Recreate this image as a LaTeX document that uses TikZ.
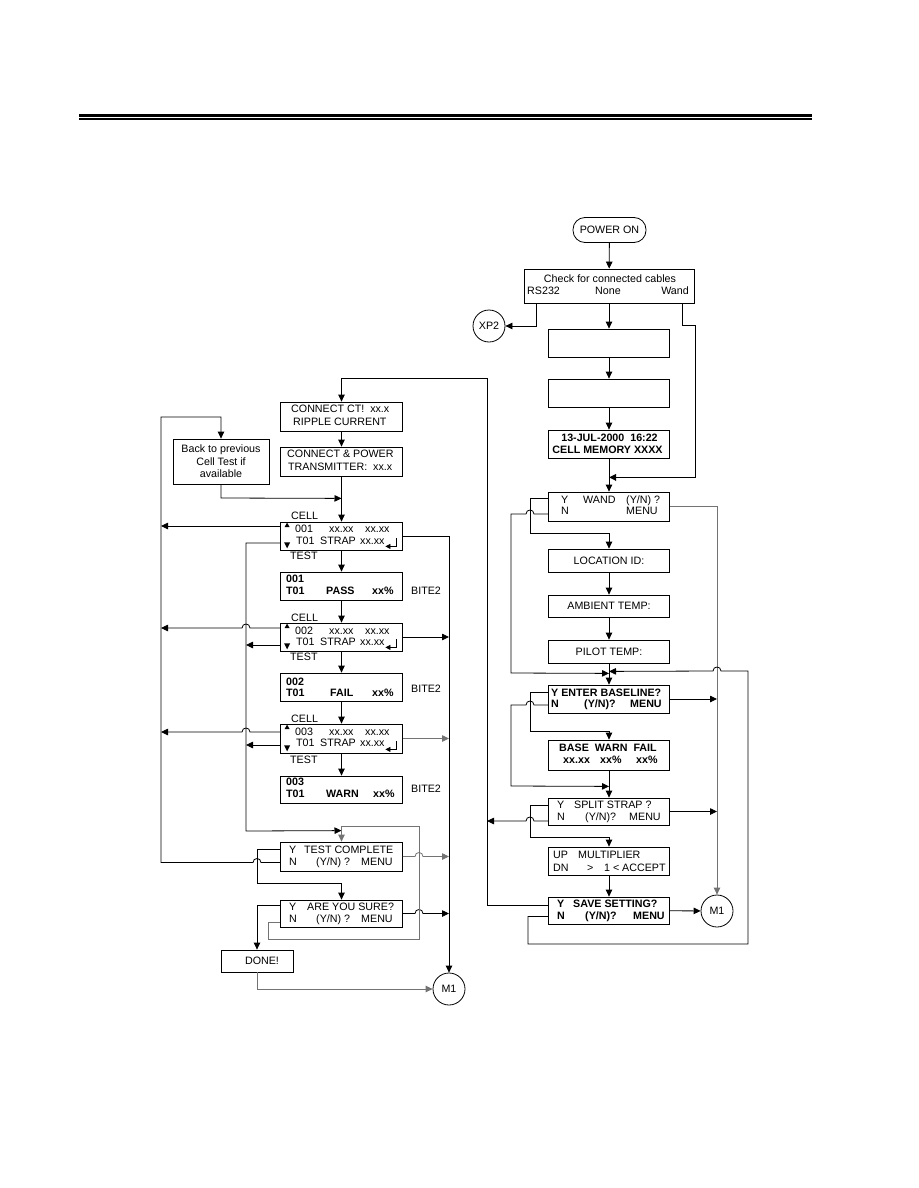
\documentclass[tikz,border=0pt]{standalone}
\usepackage{fontspec}
\setmainfont{Liberation Sans}
\usetikzlibrary{arrows.meta,calc}
\newcommand\myfs{\fontsize{10.7}{12.5}\selectfont}
\newcommand\tx[4]{\node[txt] (#1) at (#2,#3) {#4};}
\newcommand\tb[4]{\node[txt,font=\myfs\bfseries] (#1) at (#2,#3) {#4};}
\begin{document}
\begin{tikzpicture}[x=1pt,y=-1pt,
 every node/.style={font=\myfs},
 box/.style={draw, line width=0.8pt, inner sep=0pt, minimum width=122pt},
 rbox/.style={box, minimum width=121pt},
 txt/.style={anchor=west, inner sep=0pt, text height=7.7pt, text depth=0pt},
 ctxt/.style={txt, anchor=center},
 circ/.style={draw, circle, line width=0.8pt, minimum size=32pt, inner sep=0pt},
 ln/.style={line width=0.8pt},
 arr/.style={ln, -{Triangle[length=7pt,width=6.5pt]}},
 gry/.style={draw=black!55},
]
\useasboundingbox (0,0) rectangle (918,1188);
% header rule
\fill (79,114) rectangle (812,117);
\fill (79,118) rectangle (812,120);

% ---------------- right column ----------------
\node[box, rounded corners=12pt, minimum width=73pt, minimum height=25pt] (power) at (609.5,230) {POWER ON};
\node[box, minimum width=170pt, minimum height=34pt] (check) at (609,286) {};
\node[ctxt] (chk1) at (610,279) {Check for connected cables};
\tx{chk2}{527}{291}{RS232}
\tx{chk3}{595}{291}{None}
\node[txt, anchor=east] (chk4) at (689,291) {Wand};
\node[circ] (xp2) at (489,326) {XP2};
\node[rbox, minimum height=28pt] (b1) at (609,343) {};
\node[rbox, minimum height=28pt] (b2) at (609,393) {};
\node[rbox, minimum height=28pt] (date) at (609,444) {};
\node[ctxt, font=\myfs\bfseries] (d1) at (609.5,438) {13-JUL-2000\ \ 16:22};
\node[ctxt, font=\myfs\bfseries] (d2) at (607.5,450) {CELL MEMORY XXXX};
\node[rbox, minimum height=29pt] (wand) at (609,506.5) {};
\tx{w1}{561}{500}{Y}
\tx{w2}{583}{500}{WAND}
\tx{w3}{626}{500}{(Y/N) ?}
\tx{w4}{561}{511}{N}
\tx{w5}{626}{511}{MENU}
\node[rbox, minimum height=23pt] (loc) at (609,560.5) {LOCATION ID:};
\node[rbox, minimum height=22pt] (amb) at (609,606) {AMBIENT TEMP:};
\node[rbox, minimum height=23pt] (pilot) at (609,651.5) {PILOT TEMP:};
\node[rbox, minimum height=28pt] (base) at (609,699) {};
\tb{e1}{551}{692.5}{Y ENTER BASELINE?}
\tb{e2}{551}{704}{N}
\tb{e3}{584}{704}{(Y/N)?}
\tb{e4}{630}{704}{MENU}
\node[rbox, minimum height=30pt] (bwf) at (609,755) {};
\tb{f1}{559}{748}{BASE\ \ WARN\ \ FAIL}
\tb{f2}{563}{760}{xx.xx}
\tb{f3}{600}{760}{xx\%}
\tb{f4}{636}{760}{xx\%}
\node[rbox, minimum height=27pt] (split) at (609,811.5) {};
\tx{s1}{557}{805}{Y}
\tx{s2}{574}{805}{SPLIT STRAP ?}
\tx{s3}{557}{817}{N}
\tx{s4}{585}{817}{(Y/N)?}
\tx{s5}{629}{817}{MENU}
\node[rbox, minimum height=28pt] (mult) at (609,861) {};
\tx{u1}{553}{855}{UP}
\tx{u2}{578}{855}{MULTIPLIER}
\tx{u3}{553}{868}{DN}
\tx{u4}{587}{868}{>}
\tx{u5}{604}{868}{1}
\tx{u6}{613}{868}{<}
\tx{u7}{622}{868}{ACCEPT}
\node[rbox, minimum height=27pt] (save) at (609,910.5) {};
\tb{v1}{557}{904}{Y}
\tb{v2}{573}{904}{SAVE SETTING?}
\tb{v3}{557}{916}{N}
\tb{v4}{585}{916}{(Y/N)?}
\tb{v5}{633}{916}{MENU}
\node[circ] (m1b) at (717,911) {M1};

% ---------------- left column ----------------
\node[box, minimum height=29pt] (ct) at (341.5,416.5) {};
\tx{ct1}{291}{409}{CONNECT CT!\ \ xx.x}
\tx{ct2}{293}{422}{RIPPLE CURRENT}
\node[box, minimum height=29pt] (cp) at (341.5,461.5) {};
\tx{cp1}{287}{454}{CONNECT \& POWER}
\tx{cp2}{288}{467}{TRANSMITTER:\ \ xx.x}
\node[box, minimum width=96pt, minimum height=45pt, align=center] (back) at (221,461.5) {Back to previous\\Cell Test if\\available};

\node[box, minimum height=28pt] (c1) at (341.5,536) {};
\node[box, minimum height=28pt] (p1) at (341.5,586) {};
\node[box, minimum height=28pt] (c2) at (341.5,637) {};
\node[box, minimum height=28pt] (p2) at (341.5,687) {};
\node[box, minimum height=29pt] (c3) at (341.5,738.5) {};
\node[box, minimum height=27pt] (p3) at (341.5,789.5) {};

\tx{cl1}{291}{516}{CELL}
\tx{te1}{290}{556}{TEST}
\tx{a1}{295}{529}{001}
\tx{a2}{329}{529}{xx.xx}
\tx{a3}{365}{529}{xx.xx}
\tx{a4}{296}{541}{T01}
\tx{a5}{320}{541}{STRAP}
\tx{a6}{360}{541}{xx.xx}
\tb{g1}{286}{579}{001}
\tb{g2}{286}{591}{T01}
\tb{g3}{326}{591}{PASS}
\tb{g4}{372}{591}{xx\%}
\tx{bt1}{411}{591}{BITE2}

\tx{cl2}{291}{618}{CELL}
\tx{te2}{290}{657}{TEST}
\tx{b1a}{295}{631}{002}
\tx{b2a}{329}{631}{xx.xx}
\tx{b3a}{365}{631}{xx.xx}
\tx{b4a}{296}{642}{T01}
\tx{b5a}{320}{642}{STRAP}
\tx{b6a}{360}{642}{xx.xx}
\tb{h1}{286}{682}{002}
\tb{h2}{286}{693}{T01}
\tb{h3}{330}{693}{FAIL}
\tb{h4}{372}{693}{xx\%}
\tx{bt2}{411}{689}{BITE2}

\tx{cl3}{291}{719}{CELL}
\tx{te3}{290}{760}{TEST}
\tx{k1}{295}{732}{003}
\tx{k2}{329}{732}{xx.xx}
\tx{k3}{365}{732}{xx.xx}
\tx{k4}{296}{743}{T01}
\tx{k5}{320}{743}{STRAP}
\tx{k6}{360}{743}{xx.xx}
\tb{i1}{286}{782}{003}
\tb{i2}{286}{794}{T01}
\tb{i3}{326}{794}{WARN}
\tb{i4}{373}{794}{xx\%}
\tx{bt3}{411}{789}{BITE2}

\foreach \n in {c1,c2,c3}{
  \fill ($(\n.north west)+(4.5,5.5)$) -- ++(5,0) -- ++(-2.5,-4.5) -- cycle;
  \fill ($(\n.south west)+(4,-8)$) -- ++(6,0) -- ++(-3,6) -- cycle;
  \draw[ln, -{Triangle[length=5pt,width=5pt]}] ($(\n.south east)+(-6.5,-12)$) -- ++(0,8) -- ++(-11,0);
}

\node[box, minimum height=29pt] (tc) at (341.5,856.5) {};
\tx{tc1}{289}{850}{Y}
\tx{tc2}{304}{850}{TEST COMPLETE}
\tx{tc3}{289}{862}{N}
\tx{tc4}{316}{862}{(Y/N) ?}
\tx{tc5}{361}{862}{MENU}
\node[box, minimum height=27pt] (sure) at (341.5,913.5) {};
\tx{su1}{289}{907}{Y}
\tx{su2}{307}{907}{ARE YOU SURE?}
\tx{su3}{289}{919}{N}
\tx{su4}{316}{919}{(Y/N) ?}
\tx{su5}{361}{919}{MENU}
\node[box, minimum width=72pt, minimum height=22pt] (done) at (257,961) {\hspace{10pt}DONE!};
\node[circ] (m1a) at (449,989) {M1};

% ---------------- connectors: right ----------------
\draw[arr] (power) -- (check);
\draw[arr] (check.south) -- (b1.north);
\draw[arr] (b1) -- (b2);
\draw[arr] (b2) -- (date);
\draw[arr] (date) -- (wand);
\draw[arr] ($(check.south west)+(13,0)$) |- (xp2.east);
\draw[arr, line width=1.5pt] ($(check.south east)+(-12,0)$) -- ++(0,22) -- ++(13,0) |- ($(date.south)+(0,19)$);
\draw[arr, gry] (wand.east) -| (m1b.north);
\draw[arr] ($(wand.west)+(0,-8)$) -- (530,498.5) -- (530,533.5) -| (loc.north);
\draw[arr] ($(wand.west)+(0,7.5)$) -- (534,514) .. controls (534,508.7) and (526,508.7) .. (526,514) -- (511,514) -- (511,673) -- ($(pilot.south)+(0,10)$);
\draw[arr] (loc) -- (amb);
\draw[arr] (amb) -- (pilot);
\draw[arr] (pilot) -- (base);
\draw[arr] ($(save.west)+(0,6)$) -- (528,916.5) -- (528,944) -- (748,944) -- (748,671) -- (721,671) .. controls (721,665.7) and (713,665.7) .. (713,671) -- ($(pilot.south)+(0,8)$);
\draw[arr] (base.east) -- (base.east -| m1b.north);
\draw[arr] ($(base.west)+(0,-7)$) -- (530,692) -- (530,731) -| (bwf.north);
\draw[arr] ($(base.west)+(0,6)$) -- (534,705) .. controls (534,699.7) and (526,699.7) .. (526,705) -- (511,705) -- (511,786) -- ($(bwf.south)+(0,16)$);
\draw[arr] (bwf) -- (split);
\draw[arr] (split.east) -- (split.east -| m1b.north);
\draw[arr] ($(split.west)+(0,-6.5)$) -- (530,805) -- (530,837) -| (mult.north);
\draw[arr] ($(split.west)+(0,9.5)$) -- (534,821) .. controls (534,815.7) and (526,815.7) .. (526,821) -- (487,821);
\draw[arr] (mult) -- (save);
\draw[arr] (save) -- (m1b);
\draw[arr] ($(save.west)+(0,-5.5)$) -- (487,905) |- ($(ct.north)+(0,-23)$) -- (ct.north);

% ---------------- connectors: left ----------------
\draw[arr] (ct) -- (cp);
\draw[arr] (cp) -- (c1);
\draw[arr] (back.south) -- (221,498) -- ($(cp.south)+(0,22)$);
\draw[arr] ($(tc.west)+(0,6)$) -- (261,862.5) .. controls (261,857.2) and (253,857.2) .. (253,862.5) -- (161,862.5) -- (161,417) -| (back.north);
\draw[arr] ($(c1.west)+(0,-10)$) -- (161,526);
\draw[arr] ($(c1.west)+(0,7)$) -- (246,543) -- (246,831) -- ($(tc.north)+(0,-11)$);
\draw[arr] (c1.east) -| (m1a.north);
\draw[arr] (c1) -- (p1);
\draw[arr] (p1) -- (c2);
\draw[arr] (c2) -- (p2);
\draw[arr] (p2) -- (c3);
\draw[arr] (c3) -- (p3);
\draw[arr] ($(c2.west)+(0,-9)$) -- (250,628) .. controls (250,622.7) and (242,622.7) .. (242,628) -- (161,628);
\draw[arr] ($(c2.west)+(0,8)$) -- (246,645);
\draw[arr] (c2.east) -- (c2.east -| m1a.north);
\draw[arr] ($(c3.west)+(0,-6.5)$) -- (250,732) .. controls (250,726.7) and (242,726.7) .. (242,732) -- (161,732);
\draw[arr] ($(c3.west)+(0,6.5)$) -- (246,745);
\draw[arr, gry] (c3.east) -- (c3.east -| m1a.north);
\draw[arr] ($(tc.west)+(0,-7.5)$) -- (257,849) -- (257,883) -| (sure.north);
\draw[arr, gry] (tc.east) -- (415,856.5) .. controls (415,851.2) and (423,851.2) .. (423,856.5) -- (tc.east -| m1a.north);
\draw[arr] (sure.east) -- (415,913.5) .. controls (415,908.2) and (423,908.2) .. (423,913.5) -- (sure.east -| m1a.north);
\draw[arr] ($(sure.west)+(0,-8.5)$) -| (done.north);
\draw[arr, gry] ($(sure.west)+(0,8.5)$) -- (268,922) -- (268,939) -- (419,939) -- (419,826) -- (341.5,826) -- (tc.north);
\draw[arr, gry] (done.south) |- (m1a.west);
\end{tikzpicture}
\end{document}
